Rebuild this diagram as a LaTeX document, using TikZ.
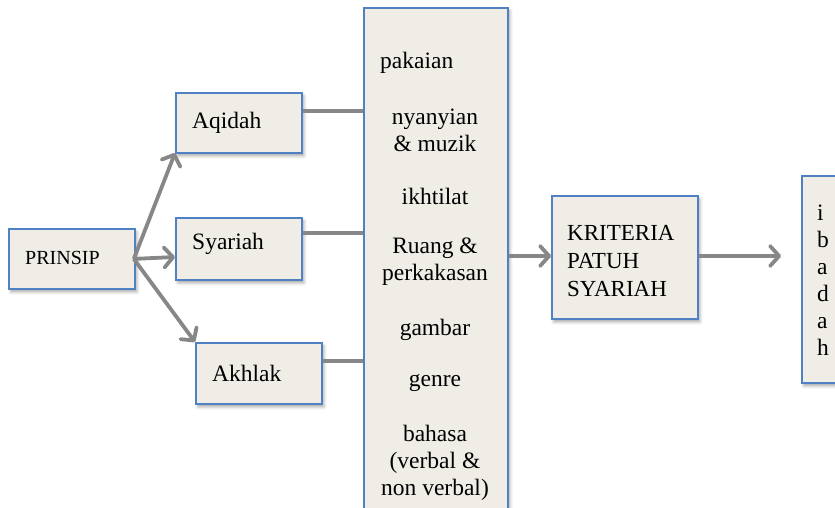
\documentclass[tikz,border=0pt]{standalone}
\usepackage{fontspec}
\setmainfont{Liberation Serif}
\usetikzlibrary{arrows.meta,shadows.blur}
\definecolor{boxfill}{HTML}{EFEDE6}
\definecolor{boxline}{HTML}{4F81C4}
\definecolor{arrowgray}{HTML}{878787}
\begin{document}
\begin{tikzpicture}[x=1pt,y=-1pt,
  box/.style={draw=boxline, line width=1.8pt, fill=boxfill, inner sep=0pt, anchor=north west,
    blur shadow={shadow xshift=2pt,shadow yshift=-3pt,shadow blur radius=3pt,shadow opacity=35}},
  lbl/.style={font=\fontsize{23.5}{27}\selectfont, inner sep=0pt, align=center},
  conn/.style={draw=arrowgray, line width=3.8pt},
  arr/.style={conn, -{Straight Barb[length=9pt,width=20pt,line width=3.8pt,line cap=round,line join=round]}}]
\useasboundingbox (0,0) rectangle (835,507);
\clip (0,0) rectangle (835,507);
% boxes
\node[box, minimum width=126pt, minimum height=60pt] (prinsip) at (8,228) {};
\node[box, minimum width=126pt, minimum height=60pt] (aqidah) at (175,92) {};
\node[box, minimum width=126pt, minimum height=62pt] (syariah) at (175,217) {};
\node[box, minimum width=126pt, minimum height=61pt] (akhlak) at (195,342) {};
\node[box, minimum width=144pt, minimum height=540pt] (col) at (363,7) {};
\node[box, minimum width=146pt, minimum height=123pt] (krit) at (551,195) {};
\node[box, minimum width=80pt, minimum height=207pt] (ibadah) at (801,175) {};
% labels
\node[lbl, font=\fontsize{20}{24}\selectfont, anchor=west] (tprinsip) at ([xshift=17pt,yshift=1pt]prinsip.west) {PRINSIP};
\node[lbl, anchor=west] (taqidah) at ([xshift=17pt]aqidah.west) {Aqidah};
\node[lbl, anchor=west] (tsyariah) at ([xshift=17pt,yshift=5pt]syariah.west) {Syariah};
\node[lbl, anchor=west] (takhlak) at ([xshift=17pt]akhlak.west) {Akhlak};
\node[lbl, font=\fontsize{23}{28}\selectfont, anchor=west, align=left] (tkrit) at ([xshift=16pt,yshift=-4pt]krit.west) {KRITERIA\\PATUH\\SYARIAH};
\node[lbl, anchor=west, align=left] (tibadah) at ([xshift=16pt,yshift=-1pt]ibadah.west) {i\\b\\a\\d\\a\\h};
% column items
\node[lbl, anchor=west] (c1) at (380,63) {pakaian};
\node[lbl] (c2) at (435,130) {nyanyian\\\&\ muzik};
\node[lbl] (c3) at (435,196) {ikhtilat};
\node[lbl] (c4) at (435,262) {Ruang \&\\perkakasan};
\node[lbl] (c5) at (435,330) {gambar};
\node[lbl] (c6) at (435,383) {genre};
\node[lbl] (c7) at (435,463) {bahasa\\(verbal \&\\non verbal)};
% connectors
\draw[conn] (aqidah.east |- 0,111) -- (col.west |- 0,111);
\draw[conn] (syariah.east |- 0,233) -- (col.west |- 0,233);
\draw[conn] (akhlak.east |- 0,361) -- (col.west |- 0,361);
\coordinate (p0) at ([xshift=-2pt]prinsip.east);
\draw[arr] (p0) -- (aqidah.south west |- 0,153);
\draw[arr] (p0) -- (syariah.west |- 0,257);
\draw[arr] (p0) -- (akhlak.north west);
\draw[arr] (col.east |- 0,256) -- (krit.west |- 0,256);
\coordinate (iend) at (781,256);
\draw[arr] (krit.east |- 0,256) -- (iend);
\end{tikzpicture}
\end{document}
